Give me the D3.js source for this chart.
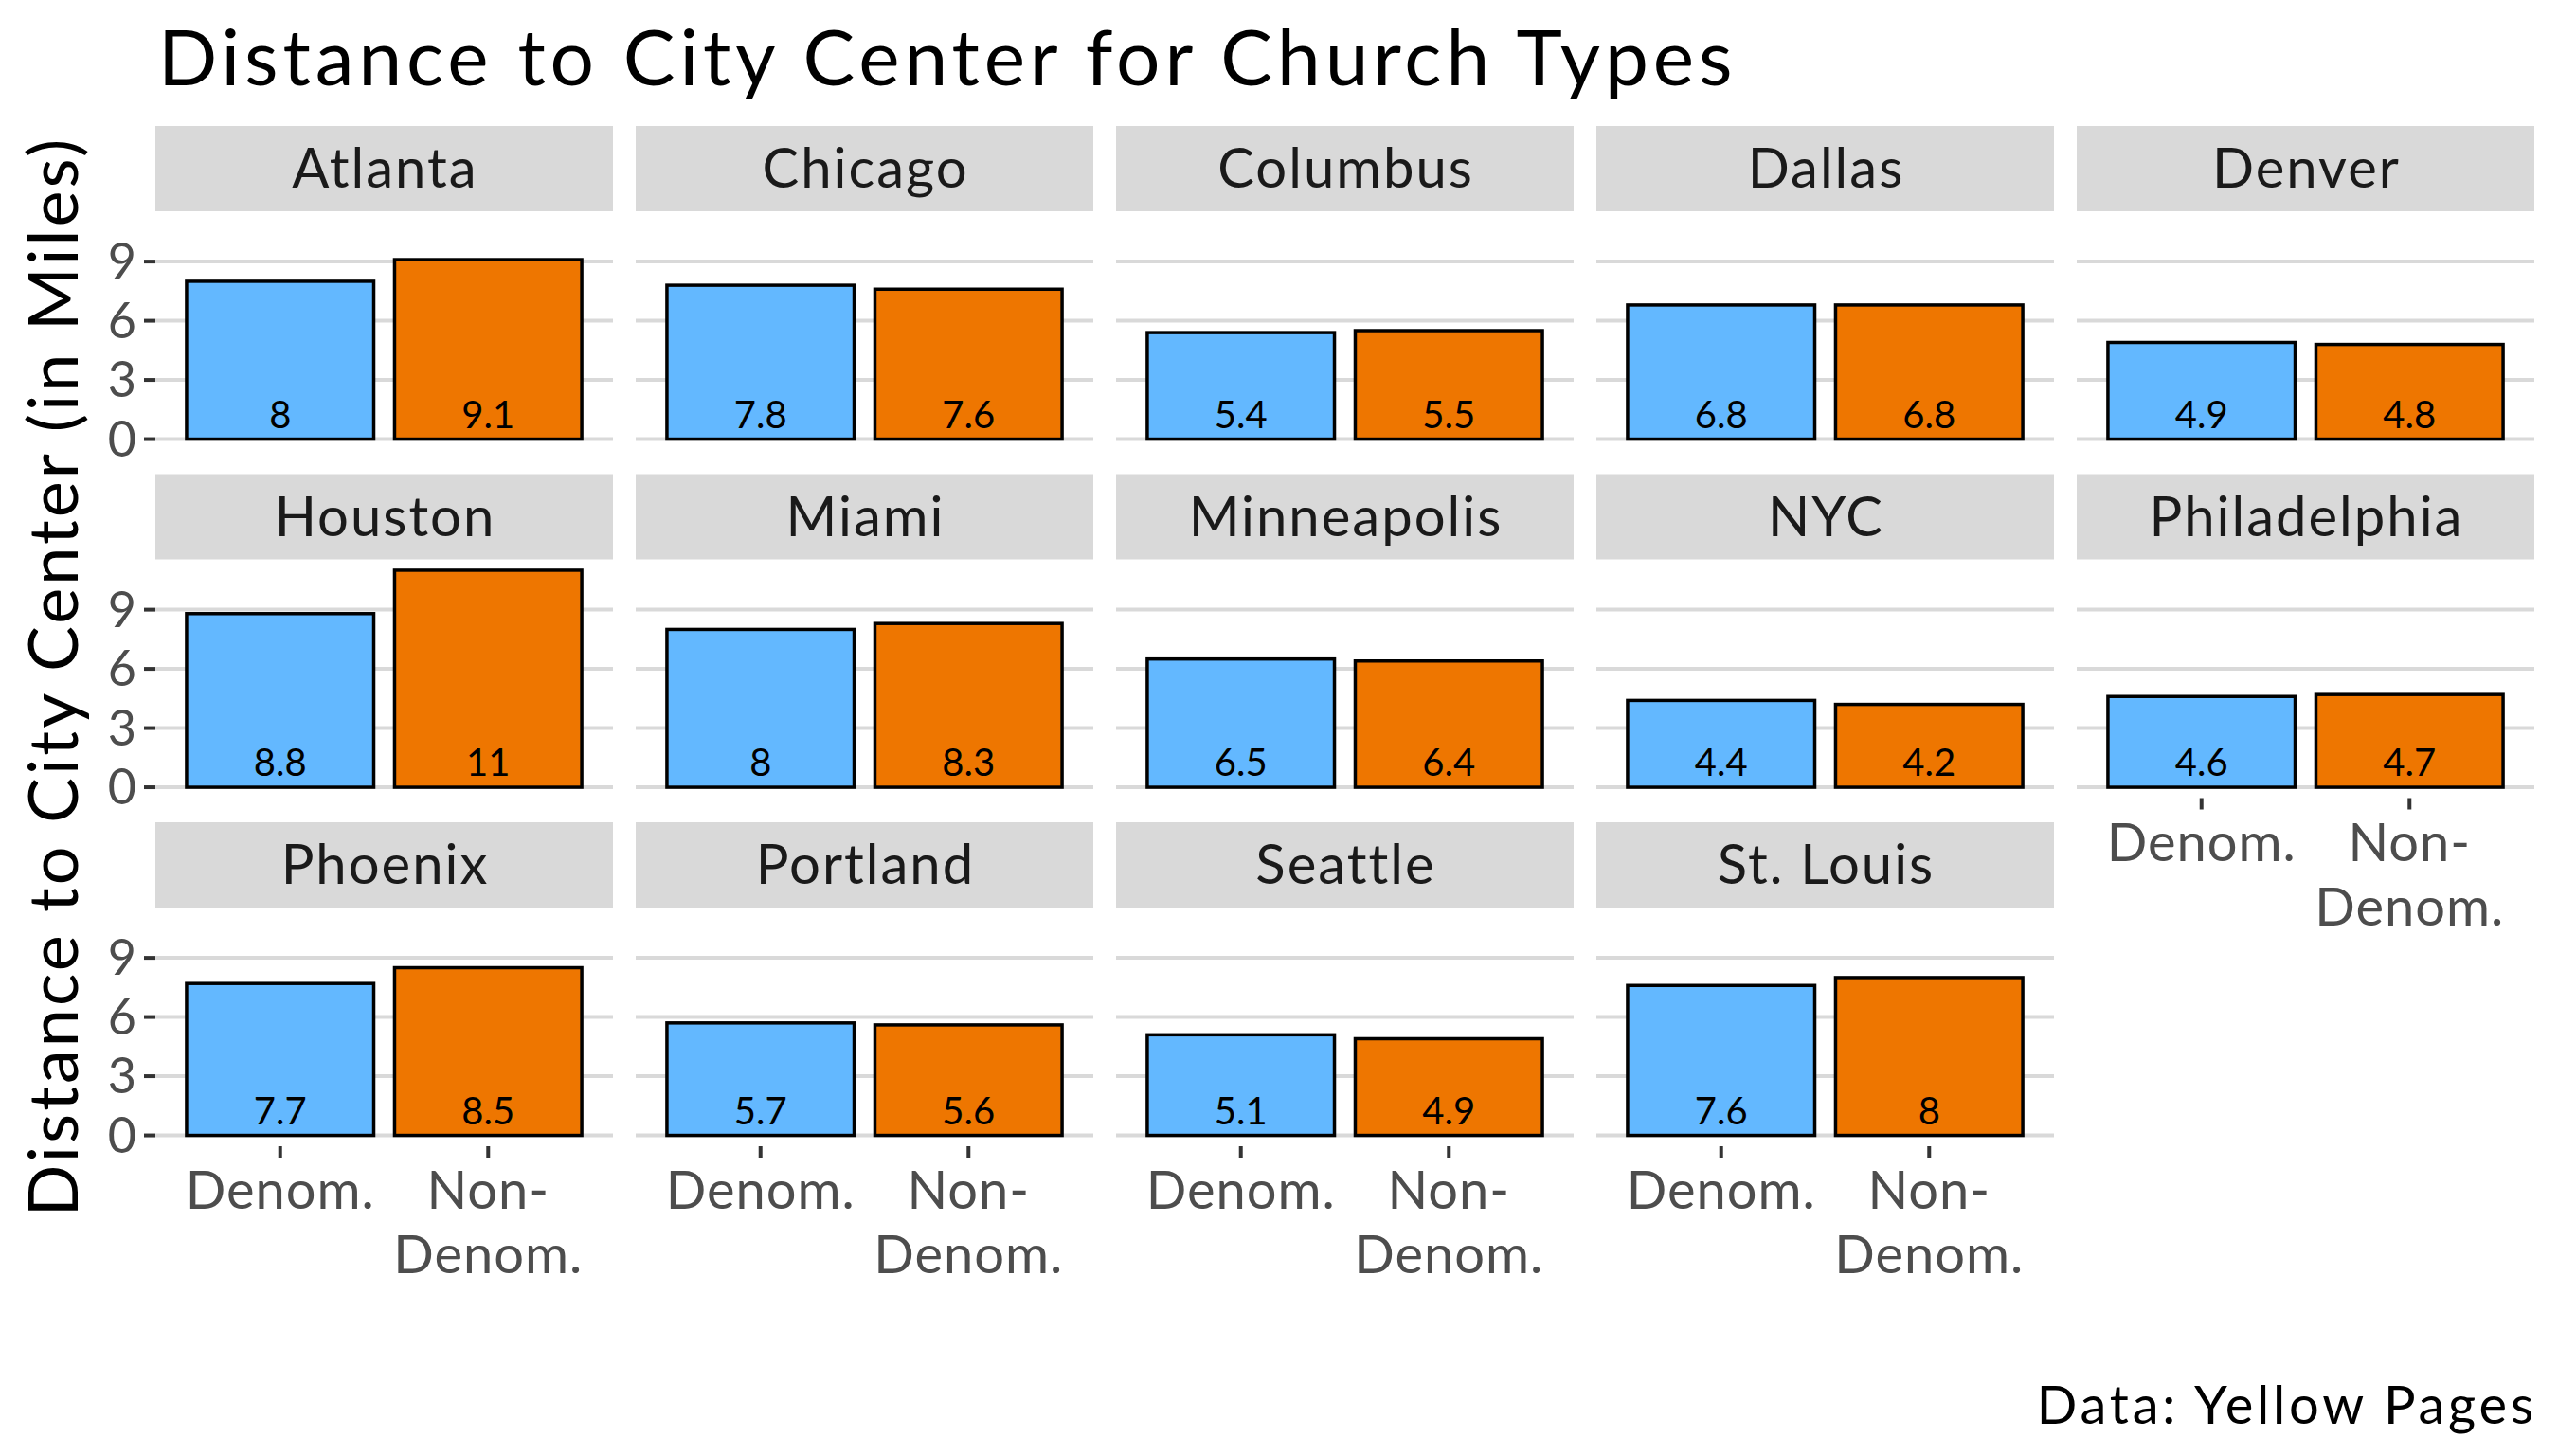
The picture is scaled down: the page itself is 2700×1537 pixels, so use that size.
<!DOCTYPE html>
<html>
<head>
<meta charset="utf-8">
<script src="https://cdn.jsdelivr.net/npm/d3@7"></script>
<style>
  html, body { margin: 0; padding: 0; background: #ffffff; }
  svg { display: block; }
  text { font-family: Lato, "Open Sans", sans-serif; }
</style>
</head>
<body>
<script>
// ---- Data ----
const cities = ["Atlanta", "Chicago", "Columbus", "Dallas", "Denver",
                "Houston", "Miami", "Minneapolis", "NYC", "Philadelphia",
                "Phoenix", "Portland", "Seattle", "St. Louis"];
const churchTypes = ["Denom.", "Non-Denom."];
const denomValues    = [8, 7.8, 5.4, 6.8, 4.9, 8.8, 8, 6.5, 4.4, 4.6, 7.7, 5.7, 5.1, 7.6];
const nonDenomValues = [9.1, 7.6, 5.5, 6.8, 4.8, 11, 8.3, 6.4, 4.2, 4.7, 8.5, 5.6, 4.9, 8];
const yTicks = [0, 3, 6, 9];
const xTickLabels = [["Denom."], ["Non-", "Denom."]];
const titleText = "Distance to City Center for Church Types";
const yTitleText = "Distance to City Center (in Miles)";
const captionText = "Data: Yellow Pages";

// ---- Layout ----
const W = 2700, H = 1537;
const nCols = 5;
const panelLeft0 = 164, colPitch = 507, panelW = 483;
const stripTop0 = 133, rowPitch = 367.5, stripH = 90, panelH = 252;
const colors = ["#63B8FF", "#EE7600"];

const svg = d3.select("body").append("svg").attr("width", W).attr("height", H);

// ggplot: discrete expand 0.6 each side, bar width 0.9
const xc = d3.scalePoint().domain(churchTypes).range([0.6 / 2.2 * panelW, 1.6 / 2.2 * panelW]);
const bw = 0.9 / 2.2 * panelW;
const maxV = d3.max(nonDenomValues.concat(denomValues));
const y = d3.scaleLinear().domain([-0.05 * maxV, maxV * 1.05]).range([panelH, 0]);

const data = cities.map((c, i) => ({city: c, vals: [denomValues[i], nonDenomValues[i]]}));

data.forEach((d, i) => {
  const col = i % nCols, row = Math.floor(i / nCols);
  const px = panelLeft0 + col * colPitch;
  const sy = stripTop0 + row * rowPitch;
  const py = sy + stripH;
  const isBottom = (i + nCols) >= cities.length;

  // strip
  svg.append("rect").attr("x", px).attr("y", sy).attr("width", panelW).attr("height", stripH)
    .attr("fill", "#d9d9d9");
  svg.append("text").attr("x", px + panelW / 2 + 1).attr("y", sy + stripH / 2 + 20)
    .attr("text-anchor", "middle").attr("font-size", 58).attr("fill", "#1a1a1a")
    .attr("letter-spacing", 2)
    .text(d.city);

  const g = svg.append("g").attr("transform", `translate(${px},${py})`);
  // gridlines
  g.selectAll("line.grid").data(yTicks).enter().append("line")
    .attr("x1", 0).attr("x2", panelW)
    .attr("y1", t => y(t)).attr("y2", t => y(t))
    .attr("stroke", "#d9d9d9").attr("stroke-width", 4);

  // bars
  g.selectAll("rect.bar").data(d.vals).enter().append("rect")
    .attr("x", (v, j) => xc(churchTypes[j]) - bw / 2)
    .attr("y", v => y(v))
    .attr("width", bw)
    .attr("height", v => y(0) - y(v))
    .attr("fill", (v, j) => colors[j])
    .attr("stroke", "#000").attr("stroke-width", 3.5);

  // value labels
  g.selectAll("text.val").data(d.vals).enter().append("text")
    .attr("x", (v, j) => xc(churchTypes[j]))
    .attr("y", y(0) - 12)
    .attr("text-anchor", "middle").attr("font-size", 40).attr("fill", "#000")
    .text(v => d3.format("~g")(v));

  // y axis (first column)
  if (col === 0) {
    yTicks.forEach(t => {
      g.append("line").attr("x1", -12).attr("x2", 0).attr("y1", y(t)).attr("y2", y(t))
        .attr("stroke", "#333333").attr("stroke-width", 4);
      g.append("text").attr("x", -20).attr("y", y(t) + 18)
        .attr("text-anchor", "end").attr("font-size", 52).attr("fill", "#4d4d4d")
        .text(t);
    });
  }
  // x axis (bottom panel of each column)
  if (isBottom) {
    churchTypes.forEach((ct, j) => {
      const cx = xc(ct);
      g.append("line").attr("x1", cx).attr("x2", cx).attr("y1", panelH).attr("y2", panelH + 12)
        .attr("stroke", "#333333").attr("stroke-width", 4);
      const tx = g.append("text").attr("text-anchor", "middle").attr("font-size", 56)
        .attr("fill", "#4d4d4d").attr("letter-spacing", 1);
      xTickLabels[j].forEach((ln, k) => {
        tx.append("tspan").attr("x", cx).attr("y", panelH + 66 + k * 68).text(ln);
      });
    });
  }
});

// title
svg.append("text").attr("x", 167).attr("y", 90).attr("font-size", 82).attr("fill", "#000")
  .attr("letter-spacing", 4.9)
  .text(titleText);
// y-axis title
svg.append("text").attr("transform", `translate(82,714) rotate(-90)`)
  .attr("text-anchor", "middle").attr("font-size", 72).attr("fill", "#000")
  .attr("letter-spacing", 3)
  .text(yTitleText);
// caption
svg.append("text").attr("x", 2678).attr("y", 1503).attr("text-anchor", "end")
  .attr("font-size", 56).attr("fill", "#000").attr("letter-spacing", 3.8)
  .text(captionText);
</script>
</body>
</html>
